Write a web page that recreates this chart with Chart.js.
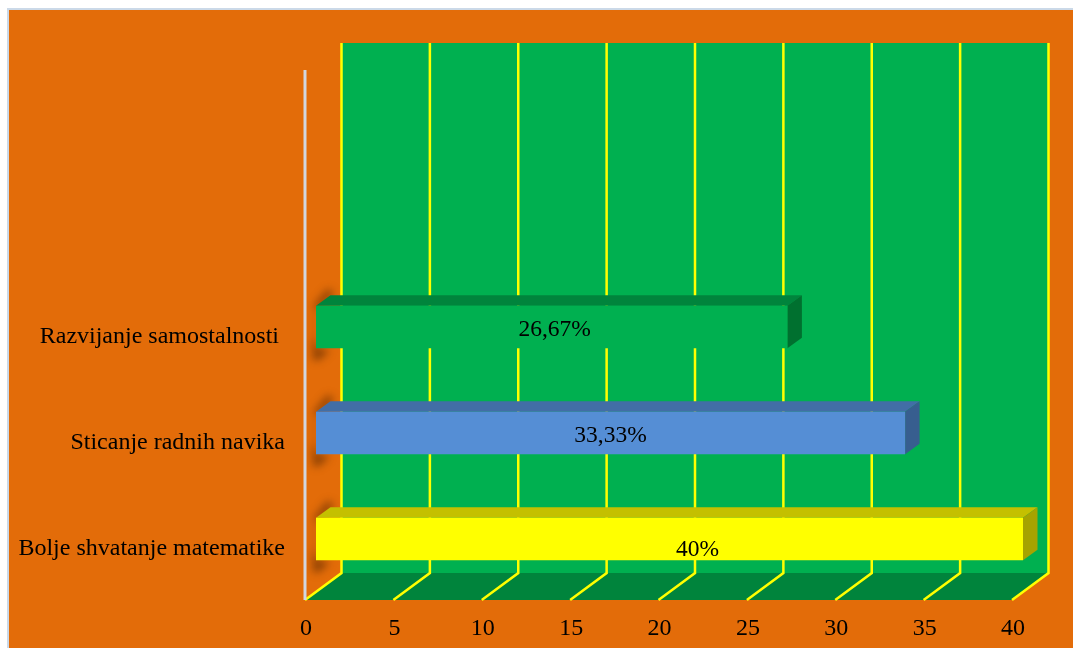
<!DOCTYPE html>
<html>
<head>
<meta charset="utf-8">
<script src="https://cdn.jsdelivr.net/npm/chart.js@4"></script>
<style>
  html, body { margin: 0; padding: 0; background: #fff; overflow: hidden; }
  #frame { position: absolute; left: 7px; top: 8px; width: 1066px; height: 640px; background: #e36c09; border-left: 2px solid #cbd9e8; border-top: 2px solid #cbd9e8; }
  canvas { position: absolute; left: 0; top: 0; }
</style>
</head>
<body>
<div id="frame"></div>
<canvas id="chart" width="1073" height="648"></canvas>
<script>
// Chart values, the two blank rows are the empty space at the top of the plot
const categories = ["", "", "Razvijanje samostalnosti ", "Sticanje radnih navika", "Bolje shvatanje matematike"];
const percentages = [null, null, 26.67, 33.33, 40];
const valueLabels = ["", "", "26,67%", "33,33%", "40%"];
const xTicks = [0, 5, 10, 15, 20, 25, 30, 35, 40];

const font = "'Liberation Serif', 'Times New Roman', serif";
const faces = [
  null,
  null,
  { front: "#00b050", top: "#00843c", side: "#00702f" },
  { front: "#558ed5", top: "#426ea6", side: "#375e8f" },
  { front: "#ffff00", top: "#c4c000", side: "#a6a300" },
];
// the label offsets from the middle of the bar, as placed in the original
const labelShift = [null, null, [3, 3], [0, 3], [28, 11]];

const wallDepth = [36.5, -27]; // back wall seen from the front plane
const barOffset = [11, -8]; // bars stand a bit behind the front plane
const barDepth = [14.5, -10.5];

function poly(ctx, points, fill) {
  ctx.beginPath();
  points.forEach((p, i) => (i ? ctx.lineTo(p[0], p[1]) : ctx.moveTo(p[0], p[1])));
  ctx.closePath();
  ctx.fillStyle = fill;
  ctx.fill();
}

const box3d = {
  id: "box3d",
  beforeDatasetsDraw(chart) {
    const { ctx, chartArea: a, scales } = chart;
    const [dx, dy] = wallDepth;
    ctx.save();
    // back wall
    ctx.fillStyle = "#00b050";
    ctx.fillRect(a.left + dx, 43, a.right - a.left, a.bottom + dy - 43);
    // floor
    poly(ctx, [[a.left, a.bottom], [a.right, a.bottom], [a.right + dx, a.bottom + dy], [a.left + dx, a.bottom + dy]], "#00843c");
    // grid lines go up the wall and along the floor
    ctx.strokeStyle = "#ffff00";
    ctx.lineWidth = 2.5;
    xTicks.forEach((t) => {
      const x = scales.x.getPixelForValue(t);
      ctx.beginPath();
      ctx.moveTo(x, a.bottom);
      ctx.lineTo(x + dx, a.bottom + dy);
      ctx.lineTo(x + dx, 43);
      ctx.stroke();
    });
    // left axis line
    ctx.strokeStyle = "#d2d6e0";
    ctx.lineWidth = 3;
    ctx.beginPath();
    ctx.moveTo(a.left, a.top);
    ctx.lineTo(a.left, a.bottom);
    ctx.stroke();
    // bars
    const meta = chart.getDatasetMeta(0);
    meta.data.forEach((bar, i) => {
      if (percentages[i] === null) return;
      const h = bar.height / 2;
      const left = bar.base + barOffset[0];
      const right = bar.x + barOffset[0];
      const top = bar.y + barOffset[1] - h;
      const bottom = bar.y + barOffset[1] + h;
      const [bx, by] = barDepth;
      // soft shadow on the orange, it stops at the wall
      ctx.save();
      ctx.beginPath();
      ctx.rect(a.left + 2, top - 40, dx - 3, bottom - top + 80);
      ctx.clip();
      ctx.filter = "blur(4px)";
      poly(ctx, [[left - 2, top], [left + 12, top - 17], [left + 18, top - 12], [left + 2, top + 4]], "rgba(60,25,0,0.55)");
      poly(ctx, [[left - 3, top + 2], [left, top + 2], [left, bottom], [left - 3, bottom]], "rgba(60,25,0,0.2)");
      poly(ctx, [[left - 3, bottom - 8], [left, bottom - 8], [left, bottom], [left + 14, bottom + 2], [left + 2, bottom + 12], [left - 3, bottom + 12]], "rgba(60,25,0,0.55)");
      ctx.restore();
      const c = faces[i];
      poly(ctx, [[left, top], [right, top], [right + bx, top + by], [left + bx, top + by]], c.top);
      poly(ctx, [[right, top], [right + bx, top + by], [right + bx, bottom + by], [right, bottom]], c.side);
      poly(ctx, [[left, top], [right, top], [right, bottom], [left, bottom]], c.front);
      // value label
      const s = labelShift[i];
      ctx.fillStyle = "#000";
      ctx.font = "23.5px " + font;
      ctx.textAlign = "center";
      ctx.textBaseline = "middle";
      ctx.fillText(valueLabels[i], (left + right) / 2 + s[0], bar.y + barOffset[1] + s[1]);
    });
    ctx.restore();
    return false;
  },
};

new Chart(document.getElementById("chart"), {
  type: "bar",
  data: {
    labels: categories,
    datasets: [{ data: percentages, barThickness: 42.5, backgroundColor: "transparent" }],
  },
  options: {
    indexAxis: "y",
    responsive: false,
    animation: false,
    layout: { padding: { left: 0, right: 61, top: 70, bottom: 0 } },
    plugins: { legend: { display: false }, tooltip: { enabled: false }, title: { display: false } },
    scales: {
      x: {
        min: 0,
        max: 40,
        afterFit: (s) => { s.height = 48; },
        grid: { display: false },
        border: { display: false },
        ticks: { stepSize: 5, color: "#000", font: { family: font, size: 24 }, maxRotation: 0, padding: 6, labelOffset: 1 },
      },
      y: {
        afterFit: (s) => { s.width = 305; },
        grid: { display: false },
        border: { display: false },
        ticks: { color: "#000", font: { family: font, size: 24 }, padding: 12, autoSkip: false, labelOffset: 1.5 },
      },
    },
  },
  plugins: [box3d],
});
</script>
</body>
</html>
